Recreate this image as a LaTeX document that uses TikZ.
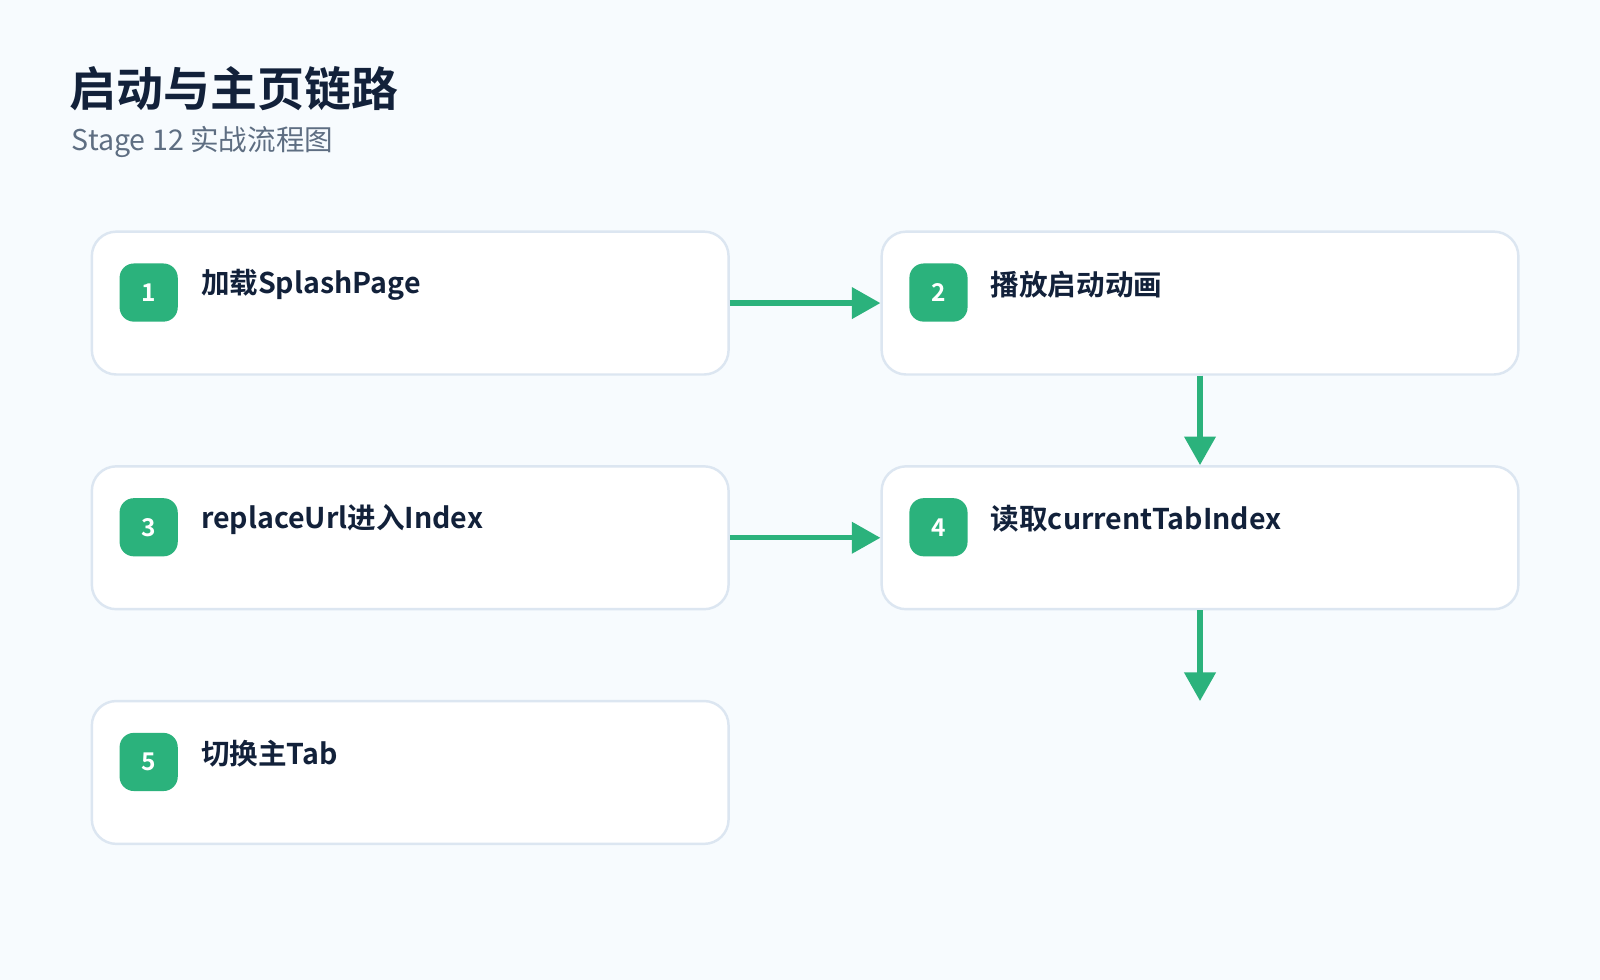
\documentclass[tikz,border=0pt]{standalone}
\usepackage{fontspec}
\setmainfont{Noto Sans CJK SC}[BoldFont={* Bold}]
\usetikzlibrary{arrows.meta, positioning}
\definecolor{bgcol}{HTML}{F7FBFE}
\definecolor{inkcol}{HTML}{12213A}
\definecolor{subcol}{HTML}{5E6E82}
\definecolor{linecol}{HTML}{DCE6F1}
\definecolor{greencol}{HTML}{2BB27C}

\begin{document}
\begin{tikzpicture}[x=0.5pt, y=-0.5pt,
    stepbox/.style={draw=linecol, line width=1.2pt, fill=white, rounded corners=12pt,
                 minimum width=312pt, minimum height=70pt, inner sep=0pt},
    badge/.style={fill=greencol, rounded corners=7pt, minimum size=28.5pt, inner sep=0pt,
                  text=white, font=\bfseries\fontsize{12}{12}\selectfont},
    steplabel/.style={anchor=west, text=inkcol, font=\bfseries\fontsize{14}{14}\selectfont, inner sep=0pt},
    flow/.style={draw=greencol, line width=2.6pt, -{Triangle[length=14pt, width=15pt]}}]
    \fill[bgcol] (0,0) rectangle (1568,960);
    \useasboundingbox (0,0) rectangle (1568,960);

    % title
    \node[anchor=base west, inner sep=0pt, text=inkcol, font=\bfseries\fontsize{23}{23}\selectfont] (title) at (68,104) {启动与主页链路};
    \node[anchor=base west, inner sep=0pt, text=subcol, font=\fontsize{14}{14}\selectfont] (subtitle) at (70,147) {Stage 12 实战流程图};

    % steps
    \node[stepbox] (s1) at (402,297) {};
    \node[stepbox] (s2) at (1176,297) {};
    \node[stepbox] (s3) at (402,527) {};
    \node[stepbox] (s4) at (1176,527) {};
    \node[stepbox] (s5) at (402,757) {};

    \foreach \n/\t in {1/加载SplashPage, 2/播放启动动画, 3/replaceUrl进入Index, 4/读取currentTabIndex, 5/切换主Tab} {
        \node[badge, below right=16pt and 14pt of s\n.north west] (b\n) {\n};
        \node[steplabel, right=11pt of b\n, yshift=4pt] (t\n) {\t};
    }

    % connectors
    \coordinate (end) at (1176,687);
    \draw[flow] (s1) -- (s2);
    \draw[flow] (s2) -- (s4);
    \draw[flow] (s3) -- (s4);
    \draw[flow] (s4) -- (end);
\end{tikzpicture}
\end{document}
